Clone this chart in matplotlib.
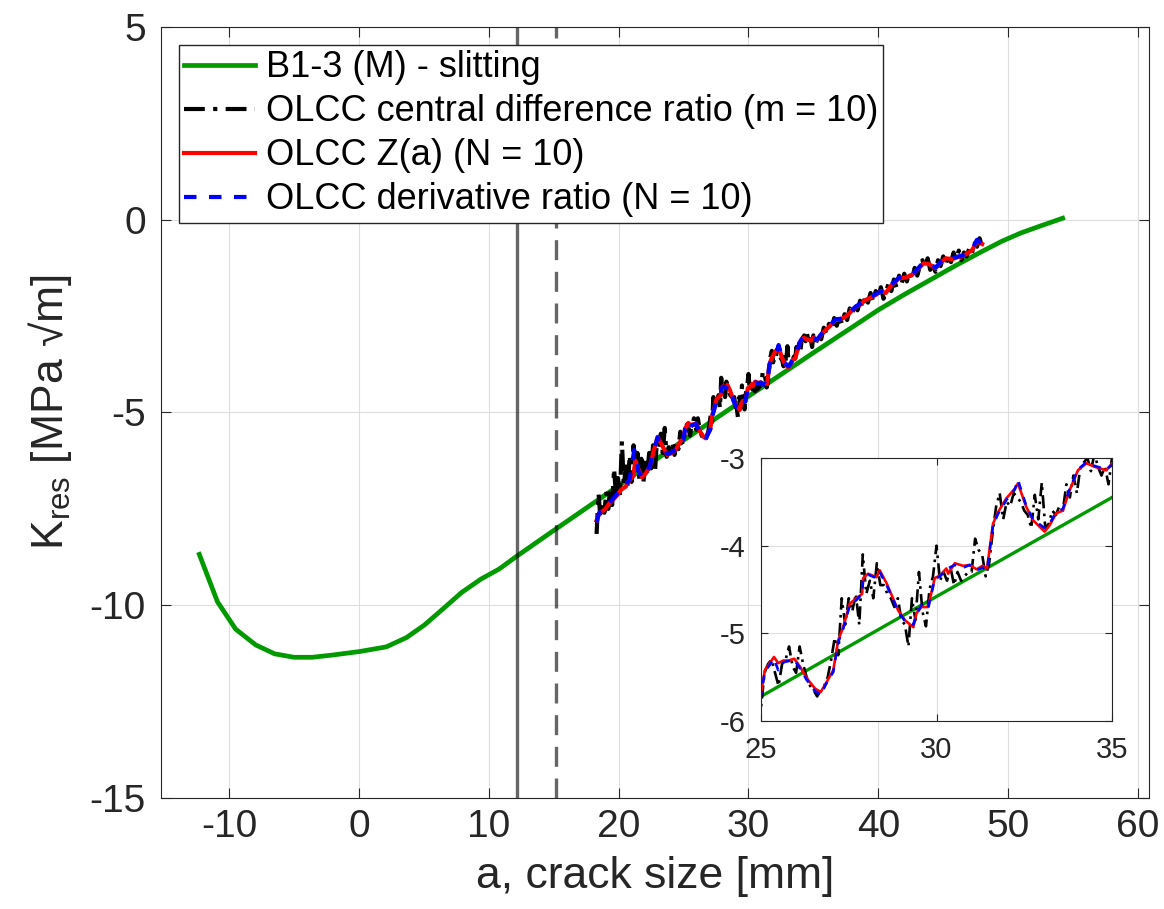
"""
Residual stress intensity factor vs crack size: slitting vs OLCC estimates,
with a zoomed inset for 25-35 mm.
"""

import numpy as np
import matplotlib
matplotlib.use('Agg')
import matplotlib.pyplot as plt

plt.rcParams['font.family'] = ['Liberation Sans', 'DejaVu Sans']
plt.rcParams['mathtext.fontset'] = 'custom'
plt.rcParams['mathtext.rm'] = 'Liberation Sans'
plt.rcParams['mathtext.it'] = 'Liberation Sans:italic'
plt.rcParams['axes.unicode_minus'] = False

# --- data ---
slit_a = [-12.3, -10.9, -9.5, -7.95, -6.5, -5.0, -3.6, -2.0, 0.05, 2.1, 3.65, 5.05,
	6.45, 7.9, 9.4, 10.8, 12.1, 14.7, 17.5, 20.0, 25.0, 30.0, 35.0, 40.0, 42.0,
	44.0, 46.0, 48.0, 49.5, 51.0, 52.5, 54.2]
slit_k = [-8.68, -9.91, -10.62, -11.03, -11.26, -11.35, -11.35, -11.29, -11.2, -11.08,
	-10.84, -10.51, -10.10, -9.67, -9.32, -9.06, -8.74, -8.13, -7.48, -6.9, -5.72,
	-4.58, -3.45, -2.34, -1.94, -1.56, -1.18, -0.82, -0.56, -0.34, -0.16, 0.04]

# OLCC Z(a), N = 10
za_a = [18.3, 18.5, 18.8, 19.0, 19.3, 19.55, 19.9, 20.2, 20.55, 20.85, 21.1, 21.3, 21.5,
	21.8, 22.05, 22.4, 22.7, 23.0, 23.4, 23.75, 24.1, 24.4, 24.75, 25.0, 25.11, 25.37,
	25.49, 25.64, 25.78, 25.95, 26.11, 26.3, 26.54, 26.7, 26.85, 27.06, 27.2, 27.34,
	27.53, 27.72, 27.88, 27.91, 28.05, 28.29, 28.38, 28.58, 28.91, 29.1, 29.34, 29.43,
	29.57, 29.76, 29.95, 30.1, 30.28, 30.33, 30.52, 30.76, 30.95, 31.14, 31.31, 31.44,
	31.61, 31.75, 31.99, 32.23, 32.32, 32.56, 32.75, 33.08, 33.22, 33.41, 33.6, 33.79,
	34.03, 34.27, 34.5, 34.84, 35.0, 35.3, 35.6, 35.95, 36.3, 36.7, 37.1, 37.5, 37.9,
	38.26, 38.6, 39.03, 39.4, 39.8, 40.2, 40.57, 41.0, 41.34, 41.6, 42.1, 42.6, 43.0,
	43.5, 43.9, 44.4, 44.8, 45.2, 45.7, 46.2, 46.5, 46.85, 47.2, 47.6, 47.8, 48.0]
za_k = [-7.80, -7.62, -7.55, -7.49, -7.35, -7.27, -7.14, -7.00, -6.92, -6.75, -6.67, -6.25,
	-6.45, -6.68, -6.60, -6.41, -6.00, -5.63, -5.89, -6.10, -6.05, -5.97, -5.75, -5.69,
	-5.42, -5.27, -5.34, -5.31, -5.31, -5.29, -5.38, -5.51, -5.63, -5.67, -5.57, -5.42,
	-5.08, -4.93, -4.66, -4.60, -4.55, -4.37, -4.32, -4.36, -4.28, -4.43, -4.74, -4.85,
	-4.93, -4.77, -4.70, -4.70, -4.37, -4.34, -4.26, -4.32, -4.20, -4.23, -4.22, -4.27,
	-4.23, -4.26, -3.75, -3.62, -3.46, -3.35, -3.29, -3.56, -3.71, -3.84, -3.77, -3.63,
	-3.60, -3.37, -3.14, -3.06, -3.10, -3.14, -3.06, -3.12, -2.98, -2.86, -2.75, -2.60,
	-2.58, -2.51, -2.38, -2.26, -2.20, -2.08, -2.02, -1.95, -1.85, -1.90, -1.70, -1.60,
	-1.52, -1.50, -1.43, -1.30, -1.13, -1.15, -1.26, -1.12, -1.00, -1.02, -0.96, -0.95,
	-0.87, -0.80, -0.57, -0.60, -0.63]

# OLCC derivative ratio, N = 10
dr_a = [18.3, 18.5, 18.8, 19.0, 19.3, 19.55, 19.9, 20.2, 20.55, 20.85, 21.2, 21.5, 21.8,
	22.05, 22.4, 22.7, 23.0, 23.4, 23.75, 24.1, 24.4, 24.75, 25.0, 25.11, 25.37, 25.49,
	25.64, 25.95, 26.11, 26.3, 26.54, 26.7, 26.85, 27.06, 27.2, 27.34, 27.53, 27.72,
	27.88, 27.91, 28.05, 28.29, 28.38, 28.58, 28.91, 29.1, 29.34, 29.43, 29.57, 29.76,
	29.95, 30.1, 30.28, 30.52, 30.76, 30.95, 31.14, 31.31, 31.44, 31.61, 31.75, 31.99,
	32.23, 32.32, 32.56, 32.75, 33.08, 33.22, 33.41, 33.6, 33.79, 34.03, 34.27, 34.5,
	34.84, 35.0, 35.3, 35.6, 35.95, 36.3, 36.7, 37.1, 37.5, 37.9, 38.26, 38.6, 39.03,
	39.4, 39.8, 40.2, 40.57, 41.0, 41.34, 41.6, 42.1, 42.6, 43.0, 43.5, 43.9, 44.4,
	44.8, 45.2, 45.7, 46.2, 46.5, 46.85, 47.2, 47.6, 47.8, 48.0]
dr_k = [-7.85, -7.60, -7.52, -7.47, -7.33, -7.25, -7.10, -6.98, -6.90, -6.72, -5.97,
	-6.50, -6.70, -6.58, -6.40, -5.98, -5.65, -5.92, -6.08, -6.03, -5.95, -5.73, -5.70,
	-5.44, -5.29, -5.42, -5.33, -5.30, -5.40, -5.53, -5.66, -5.70, -5.58, -5.44, -5.10,
	-4.95, -4.68, -4.62, -4.55, -4.38, -4.33, -4.37, -4.30, -4.45, -4.75, -4.86, -4.90,
	-4.78, -4.68, -4.72, -4.38, -4.35, -4.27, -4.22, -4.25, -4.22, -4.28, -4.25, -4.28,
	-3.77, -3.64, -3.48, -3.36, -3.25, -3.55, -3.70, -3.80, -3.75, -3.62, -3.58, -3.36,
	-3.13, -3.05, -3.09, -3.13, -3.08, -3.10, -2.97, -2.85, -2.73, -2.58, -2.57, -2.50,
	-2.37, -2.25, -2.18, -2.07, -2.00, -1.93, -1.86, -1.88, -1.68, -1.58, -1.50, -1.48,
	-1.42, -1.28, -1.10, -1.14, -1.24, -1.10, -0.98, -1.00, -0.95, -0.93, -0.85, -0.78,
	-0.52, -0.58, -0.62]

# OLCC central difference ratio, m = 10 (three sampling segments)
cd_k1 = [-8.15, -7.10, -7.75, -7.35, -7.60, -7.05, -7.50, -6.95, -7.40, -6.45, -7.20,
	-6.70, -7.15, -5.75, -6.90, -6.40, -6.95, -6.10, -6.80, -5.85, -6.50, -6.05, -6.75,
	-6.20, -6.85, -6.25, -6.60, -6.05, -6.45, -5.85, -6.55, -5.70, -5.95, -5.55, -6.05,
	-5.40, -6.15, -5.90, -6.20, -5.80, -6.10, -5.75, -5.95, -5.50, -5.80]
cd_k2 = [-5.85, -5.45, -5.35, -5.30, -5.45, -5.60, -5.35, -5.30, -5.15, -5.38,
	-5.45, -5.15, -5.35, -5.50, -5.60, -5.65, -5.72, -5.65, -5.60, -5.50,
	-5.30, -5.05, -5.25, -4.60, -4.90, -4.60, -4.75, -4.55, -4.90, -4.10,
	-4.55, -4.40, -4.60, -4.20, -4.45, -4.45, -4.55, -4.60, -4.70, -4.60,
	-4.85, -4.90, -5.15, -4.60, -4.85, -4.30, -4.75, -4.92, -4.50, -4.35,
	-4.00, -4.40, -4.30, -4.40, -4.25, -4.45, -4.30, -4.40, -4.35, -4.30,
	-4.30, -3.92, -4.05, -4.10, -4.35, -4.20, -3.85, -3.55, -3.40, -3.70,
	-3.50, -3.55, -3.40, -3.45, -3.50, -3.60, -3.65, -3.80, -3.42, -3.70,
	-3.28, -3.80, -3.75, -3.60, -3.65, -3.55, -3.60, -3.30, -3.45, -3.20,
	-3.40, -3.10, -3.05, -3.00, -3.15, -2.95, -3.10, -3.20, -3.10, -3.30,
	-3.00]
cd_k3 = [-3.20, -2.95, -3.10, -2.80, -2.95, -2.70, -2.85, -2.55, -2.75, -2.50, -2.70,
	-2.45, -2.60, -2.30, -2.45, -2.15, -2.35, -2.10, -2.30, -1.95, -2.15, -1.90, -2.10,
	-1.85, -2.00, -1.75, -2.05, -1.85, -1.65, -1.85, -1.55, -1.75, -1.45, -1.65, -1.40,
	-1.60, -1.35, -1.55, -1.25, -1.45, -1.20, -1.05, -1.25, -1.00, -1.30, -1.15, -1.35,
	-1.05, -1.20, -0.95, -1.15, -0.90, -1.10, -0.85, -1.05, -0.80, -1.05, -0.85, -0.95,
	-0.75, -0.90, -0.55, -0.70, -0.48, -0.70]
cd_a = np.concatenate([
	np.linspace(18.3, 24.9, len(cd_k1)),
	np.linspace(25.0, 35.0, len(cd_k2)),
	np.linspace(35.2, 48.0, len(cd_k3)),
])
cd_k = np.concatenate([cd_k1, cd_k2, cd_k3])

# positions of the vertical marker lines [mm]
a_solid = 12.18
a_dashed = 15.2

GREEN = '#009900'
AX_COLOR = '#262626'
GRID_COLOR = '#dedede'


def style_axes(ax, fontsize, xpad, ypad, ticklen):
	ax.grid(True, color=GRID_COLOR, linewidth=0.8)
	ax.set_axisbelow(True)
	ax.tick_params(direction='in', top=True, right=True, length=ticklen, width=0.8,
		color=AX_COLOR, labelsize=fontsize, labelcolor=AX_COLOR)
	ax.tick_params(axis='x', pad=xpad)
	ax.tick_params(axis='y', pad=ypad)
	for spine in ax.spines.values():
		spine.set_color(AX_COLOR)
		spine.set_linewidth(0.8)


def plot_series(ax, lw_green, lw_data):
	ax.plot(slit_a, slit_k, color=GREEN, linewidth=lw_green, label='B1-3 (M) - slitting')
	ax.plot(cd_a, cd_k, color='black', linewidth=lw_data, dashes=(5, 2, 1, 2),
		label='OLCC central difference ratio (m = 10)')
	ax.plot(za_a, za_k, color='red', linewidth=lw_data, label='OLCC Z(a) (N = 10)')
	ax.plot(dr_a, dr_k, color='blue', linewidth=lw_data, dashes=(3, 3),
		label='OLCC derivative ratio (N = 10)')


W, H = 1164, 909
fig = plt.figure(figsize=(W / 100, H / 100), dpi=100)

# Main axes
ax = fig.add_axes([161 / W, 1 - 798 / H, (1149 - 161) / W, (798 - 27) / H])
plot_series(ax, 3.4, 3.0)
ax.axvline(a_solid, color='black', alpha=0.6, linewidth=2.4)
ax.axvline(a_dashed, color='black', alpha=0.6, linewidth=2.4, dashes=(6, 3.5))
ax.set_xlim(-15.25, 60.85)
ax.set_ylim(-15, 5)
ax.set_xticks(np.arange(-10, 61, 10))
ax.set_yticks(np.arange(-15, 6, 5))
style_axes(ax, 28, 8, 11, 7)

ax.set_xlabel('a, crack size [mm]', fontsize=32, color=AX_COLOR)
ax.xaxis.set_label_coords(0.5, -0.075)
ax.set_ylabel('K$_{\\mathrm{res}}$ [MPa √m]', fontsize=32, color=AX_COLOR)
ax.yaxis.set_label_coords(-0.088, 0.5)

leg = ax.legend(loc='upper left', bbox_to_anchor=(0.0182, 0.9767), borderaxespad=0,
	fontsize=26, handlelength=1.95, handletextpad=0.3, labelspacing=0.25,
	borderpad=0.15, fancybox=False, framealpha=1, edgecolor=AX_COLOR)
leg.get_frame().set_linewidth(1.0)
leg.set_zorder(10)

# Inset axes
ins = fig.add_axes([761 / W, 1 - 721 / H, (1112 - 761) / W, (721 - 458) / H])
plot_series(ins, 2.4, 1.9)
ins.set_xlim(25, 35)
ins.set_ylim(-6, -3)
ins.set_xticks([25, 30, 35])
ins.set_yticks([-6, -5, -4, -3])
style_axes(ins, 21, 11, 11, 5)

plt.savefig('out.png', dpi=100)
plt.close()
